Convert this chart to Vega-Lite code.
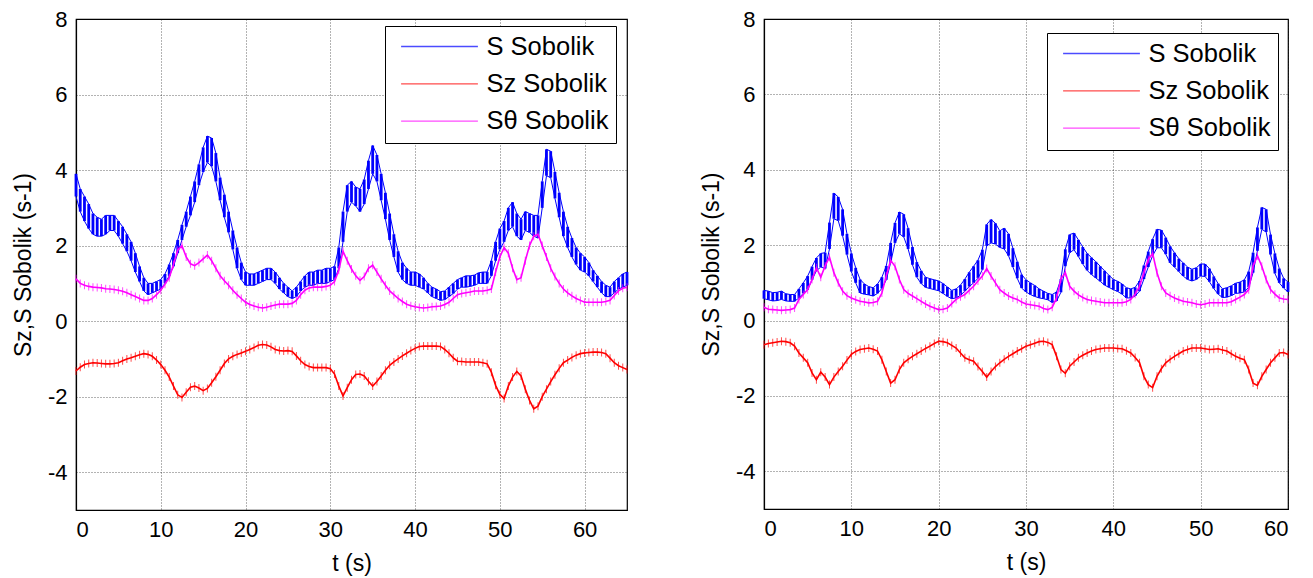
{
"$schema": "https://vega.github.io/schema/vega-lite/v6.json",
"padding": {"left": 11, "top": 7, "right": 5, "bottom": 5},
"background": "#ffffff",
"config": {
 "font": "Liberation Sans",
 "view": {"stroke": "#000", "strokeWidth": 1.2},
 "axis": {"labelFont": "Liberation Sans", "titleFont": "Liberation Sans", "labelFontSize": 22, "titleFontSize": 23, "titleFontWeight": "normal", "labelColor": "#000", "titleColor": "#000", "domainColor": "#000", "domainWidth": 1.2, "ticks": false, "gridColor": "#000", "gridDash": [1, 2], "gridOpacity": 0.75, "gridWidth": 0.8, "labelPadding": 9, "titlePadding": 12, "labelExpr": "'' + datum.value"},
 "legend": {"orient": "none", "title": null, "symbolType": "M-3.2,0L3.2,0", "symbolSize": 576, "symbolStrokeWidth": 1.3, "labelFontSize": 25.5, "labelFont": "Liberation Sans", "labelColor": "#000", "strokeColor": "#000", "fillColor": "#fff", "padding": 7.5, "rowPadding": 10.3, "symbolOffset": 34, "labelOffset": 34},
 "concat": {"spacing": 68}
},
"resolve": {"scale": {"color": "independent"}},
"datasets": {
"L": [
{"t":0,"a":3.3,"b":3.9,"z":-1.32,"h":1.12},
{"t":0.5,"a":2.9,"b":3.5,"z":-1.22,"h":1.0},
{"t":1,"a":2.65,"b":3.3,"z":-1.15,"h":0.95},
{"t":1.5,"a":2.45,"b":3.1,"z":-1.12,"h":0.92},
{"t":2,"a":2.3,"b":2.85,"z":-1.1,"h":0.9},
{"t":2.5,"a":2.25,"b":2.75,"z":-1.11,"h":0.89},
{"t":3,"a":2.25,"b":2.7,"z":-1.12,"h":0.88},
{"t":3.5,"a":2.3,"b":2.8,"z":-1.13,"h":0.86},
{"t":4,"a":2.4,"b":2.8,"z":-1.13,"h":0.85},
{"t":4.5,"a":2.4,"b":2.8,"z":-1.12,"h":0.84},
{"t":5,"a":2.25,"b":2.65,"z":-1.1,"h":0.82},
{"t":5.5,"a":2.05,"b":2.5,"z":-1.05,"h":0.79},
{"t":6,"a":1.85,"b":2.3,"z":-1.0,"h":0.75},
{"t":6.5,"a":1.6,"b":2.1,"z":-0.97,"h":0.7},
{"t":7,"a":1.3,"b":1.8,"z":-0.93,"h":0.65},
{"t":7.5,"a":1.05,"b":1.45,"z":-0.89,"h":0.6},
{"t":8,"a":0.8,"b":1.15,"z":-0.86,"h":0.55},
{"t":8.5,"a":0.7,"b":1.0,"z":-0.88,"h":0.55},
{"t":9,"a":0.75,"b":1.0,"z":-0.93,"h":0.6},
{"t":9.5,"a":0.8,"b":1.05,"z":-1.03,"h":0.7},
{"t":10,"a":0.85,"b":1.1,"z":-1.15,"h":0.82},
{"t":10.5,"a":1.0,"b":1.25,"z":-1.3,"h":0.98},
{"t":11,"a":1.2,"b":1.5,"z":-1.48,"h":1.15},
{"t":11.5,"a":1.45,"b":1.8,"z":-1.72,"h":1.5},
{"t":12,"a":1.8,"b":2.15,"z":-1.95,"h":1.88},
{"t":12.5,"a":2.15,"b":2.55,"z":-2.02,"h":2.0},
{"t":13,"a":2.5,"b":2.9,"z":-1.88,"h":1.7},
{"t":13.5,"a":2.8,"b":3.3,"z":-1.75,"h":1.52},
{"t":14,"a":3.15,"b":3.7,"z":-1.72,"h":1.47},
{"t":14.5,"a":3.6,"b":4.15,"z":-1.77,"h":1.55},
{"t":15,"a":3.95,"b":4.6,"z":-1.84,"h":1.65},
{"t":15.5,"a":4.2,"b":4.9,"z":-1.78,"h":1.75},
{"t":16,"a":4.1,"b":4.85,"z":-1.63,"h":1.6},
{"t":16.5,"a":3.7,"b":4.45,"z":-1.47,"h":1.4},
{"t":17,"a":3.2,"b":3.8,"z":-1.3,"h":1.2},
{"t":17.5,"a":2.75,"b":3.35,"z":-1.12,"h":1.07},
{"t":18,"a":2.35,"b":2.9,"z":-1.0,"h":0.95},
{"t":18.5,"a":1.9,"b":2.4,"z":-0.93,"h":0.82},
{"t":19,"a":1.4,"b":1.95,"z":-0.88,"h":0.7},
{"t":19.5,"a":1.1,"b":1.55,"z":-0.84,"h":0.6},
{"t":20,"a":0.95,"b":1.3,"z":-0.8,"h":0.5},
{"t":20.5,"a":0.95,"b":1.25,"z":-0.75,"h":0.44},
{"t":21,"a":0.95,"b":1.25,"z":-0.7,"h":0.4},
{"t":21.5,"a":1.0,"b":1.3,"z":-0.64,"h":0.37},
{"t":22,"a":1.05,"b":1.35,"z":-0.62,"h":0.35},
{"t":22.5,"a":1.1,"b":1.4,"z":-0.63,"h":0.37},
{"t":23,"a":1.1,"b":1.4,"z":-0.68,"h":0.4},
{"t":23.5,"a":1.0,"b":1.3,"z":-0.75,"h":0.43},
{"t":24,"a":0.85,"b":1.15,"z":-0.78,"h":0.45},
{"t":24.5,"a":0.75,"b":1.0,"z":-0.79,"h":0.45},
{"t":25,"a":0.65,"b":0.9,"z":-0.78,"h":0.45},
{"t":25.5,"a":0.6,"b":0.8,"z":-0.8,"h":0.47},
{"t":26,"a":0.65,"b":0.9,"z":-0.92,"h":0.55},
{"t":26.5,"a":0.8,"b":1.05,"z":-1.05,"h":0.7},
{"t":27,"a":0.9,"b":1.2,"z":-1.15,"h":0.82},
{"t":27.5,"a":0.95,"b":1.3,"z":-1.2,"h":0.88},
{"t":28,"a":0.95,"b":1.3,"z":-1.23,"h":0.9},
{"t":28.5,"a":1.0,"b":1.35,"z":-1.23,"h":0.9},
{"t":29,"a":1.0,"b":1.35,"z":-1.23,"h":0.9},
{"t":29.5,"a":1.0,"b":1.4,"z":-1.23,"h":0.92},
{"t":30,"a":1.05,"b":1.4,"z":-1.26,"h":0.95},
{"t":30.5,"a":1.1,"b":1.45,"z":-1.4,"h":1.05},
{"t":31,"a":1.4,"b":1.95,"z":-1.72,"h":1.35},
{"t":31.5,"a":2.1,"b":2.9,"z":-1.98,"h":1.85},
{"t":32,"a":2.9,"b":3.6,"z":-1.76,"h":1.6},
{"t":32.5,"a":3.15,"b":3.7,"z":-1.55,"h":1.38},
{"t":33,"a":3.05,"b":3.55,"z":-1.41,"h":1.2},
{"t":33.5,"a":2.9,"b":3.5,"z":-1.4,"h":1.08},
{"t":34,"a":3.1,"b":3.75,"z":-1.45,"h":1.18},
{"t":34.5,"a":3.5,"b":4.25,"z":-1.59,"h":1.4},
{"t":35,"a":3.9,"b":4.65,"z":-1.72,"h":1.48},
{"t":35.5,"a":3.7,"b":4.4,"z":-1.6,"h":1.3},
{"t":36,"a":3.2,"b":3.9,"z":-1.45,"h":1.12},
{"t":36.5,"a":2.7,"b":3.4,"z":-1.3,"h":0.95},
{"t":37,"a":2.15,"b":2.85,"z":-1.17,"h":0.8},
{"t":37.5,"a":1.7,"b":2.3,"z":-1.08,"h":0.7},
{"t":38,"a":1.3,"b":1.85,"z":-1.0,"h":0.6},
{"t":38.5,"a":1.1,"b":1.55,"z":-0.92,"h":0.52},
{"t":39,"a":1.0,"b":1.4,"z":-0.85,"h":0.45},
{"t":39.5,"a":0.95,"b":1.3,"z":-0.78,"h":0.41},
{"t":40,"a":0.95,"b":1.3,"z":-0.72,"h":0.38},
{"t":40.5,"a":0.9,"b":1.25,"z":-0.67,"h":0.36},
{"t":41,"a":0.85,"b":1.15,"z":-0.66,"h":0.35},
{"t":41.5,"a":0.75,"b":1.0,"z":-0.66,"h":0.36},
{"t":42,"a":0.65,"b":0.9,"z":-0.66,"h":0.38},
{"t":42.5,"a":0.6,"b":0.85,"z":-0.66,"h":0.39},
{"t":43,"a":0.55,"b":0.78,"z":-0.67,"h":0.4},
{"t":43.5,"a":0.57,"b":0.8,"z":-0.75,"h":0.44},
{"t":44,"a":0.65,"b":0.9,"z":-0.85,"h":0.5},
{"t":44.5,"a":0.73,"b":1.0,"z":-0.97,"h":0.6},
{"t":45,"a":0.85,"b":1.1,"z":-1.06,"h":0.7},
{"t":45.5,"a":0.9,"b":1.15,"z":-1.07,"h":0.73},
{"t":46,"a":0.9,"b":1.2,"z":-1.08,"h":0.75},
{"t":46.5,"a":0.92,"b":1.2,"z":-1.08,"h":0.77},
{"t":47,"a":0.95,"b":1.22,"z":-1.08,"h":0.8},
{"t":47.5,"a":1.0,"b":1.28,"z":-1.08,"h":0.8},
{"t":48,"a":1.0,"b":1.3,"z":-1.1,"h":0.8},
{"t":48.5,"a":1.0,"b":1.3,"z":-1.13,"h":0.82},
{"t":49,"a":1.2,"b":1.6,"z":-1.35,"h":0.85},
{"t":49.5,"a":1.6,"b":2.1,"z":-1.7,"h":1.3},
{"t":50,"a":1.9,"b":2.45,"z":-1.94,"h":1.7},
{"t":50.5,"a":2.1,"b":2.65,"z":-2.05,"h":1.95},
{"t":51,"a":2.4,"b":3.0,"z":-1.72,"h":1.8},
{"t":51.5,"a":2.5,"b":3.15,"z":-1.48,"h":1.4},
{"t":52,"a":2.25,"b":2.85,"z":-1.33,"h":1.1},
{"t":52.5,"a":2.15,"b":2.7,"z":-1.45,"h":1.15},
{"t":53,"a":2.4,"b":2.9,"z":-1.8,"h":1.6},
{"t":53.5,"a":2.35,"b":2.85,"z":-2.1,"h":2.0},
{"t":54,"a":2.25,"b":2.8,"z":-2.32,"h":2.25},
{"t":54.5,"a":2.2,"b":2.8,"z":-2.25,"h":2.3},
{"t":55,"a":3.0,"b":3.7,"z":-2.0,"h":2.0},
{"t":55.5,"a":3.85,"b":4.55,"z":-1.8,"h":1.7},
{"t":56,"a":3.8,"b":4.5,"z":-1.6,"h":1.4},
{"t":56.5,"a":3.25,"b":3.95,"z":-1.42,"h":1.18},
{"t":57,"a":2.75,"b":3.4,"z":-1.25,"h":1.0},
{"t":57.5,"a":2.25,"b":2.9,"z":-1.1,"h":0.85},
{"t":58,"a":1.95,"b":2.5,"z":-1.03,"h":0.75},
{"t":58.5,"a":1.7,"b":2.2,"z":-0.96,"h":0.67},
{"t":59,"a":1.5,"b":1.95,"z":-0.9,"h":0.6},
{"t":59.5,"a":1.35,"b":1.8,"z":-0.86,"h":0.55},
{"t":60,"a":1.3,"b":1.7,"z":-0.84,"h":0.5},
{"t":60.5,"a":1.2,"b":1.55,"z":-0.83,"h":0.5},
{"t":61,"a":1.05,"b":1.35,"z":-0.82,"h":0.5},
{"t":61.5,"a":0.9,"b":1.2,"z":-0.82,"h":0.5},
{"t":62,"a":0.75,"b":1.05,"z":-0.83,"h":0.5},
{"t":62.5,"a":0.65,"b":0.95,"z":-0.86,"h":0.52},
{"t":63,"a":0.65,"b":0.9,"z":-0.98,"h":0.55},
{"t":63.5,"a":0.75,"b":1.05,"z":-1.1,"h":0.68},
{"t":64,"a":0.85,"b":1.15,"z":-1.18,"h":0.8},
{"t":64.5,"a":0.9,"b":1.25,"z":-1.23,"h":0.87},
{"t":65,"a":0.95,"b":1.3,"z":-1.28,"h":0.9}
],
"R": [
{"t":0,"a":0.58,"b":0.8,"z":-0.64,"h":0.35},
{"t":0.5,"a":0.55,"b":0.78,"z":-0.61,"h":0.3},
{"t":1,"a":0.52,"b":0.74,"z":-0.59,"h":0.29},
{"t":1.5,"a":0.53,"b":0.75,"z":-0.57,"h":0.28},
{"t":2,"a":0.56,"b":0.78,"z":-0.55,"h":0.27},
{"t":2.5,"a":0.52,"b":0.71,"z":-0.56,"h":0.28},
{"t":3,"a":0.51,"b":0.69,"z":-0.59,"h":0.29},
{"t":3.5,"a":0.51,"b":0.69,"z":-0.68,"h":0.33},
{"t":4,"a":0.6,"b":0.84,"z":-0.86,"h":0.56},
{"t":4.5,"a":0.72,"b":1.0,"z":-0.99,"h":0.69},
{"t":5,"a":0.82,"b":1.18,"z":-1.12,"h":0.82},
{"t":5.5,"a":1.08,"b":1.43,"z":-1.39,"h":1.09},
{"t":6,"a":1.32,"b":1.66,"z":-1.57,"h":1.4},
{"t":6.5,"a":1.42,"b":1.78,"z":-1.37,"h":1.15},
{"t":7,"a":1.38,"b":1.8,"z":-1.5,"h":1.45},
{"t":7.5,"a":1.9,"b":2.6,"z":-1.7,"h":1.68},
{"t":8,"a":2.7,"b":3.38,"z":-1.5,"h":1.27},
{"t":8.5,"a":2.65,"b":3.28,"z":-1.35,"h":1.0},
{"t":9,"a":2.25,"b":2.95,"z":-1.21,"h":0.78},
{"t":9.5,"a":1.75,"b":2.3,"z":-1.05,"h":0.66},
{"t":10,"a":1.3,"b":1.78,"z":-0.9,"h":0.6},
{"t":10.5,"a":1.0,"b":1.4,"z":-0.82,"h":0.55},
{"t":11,"a":0.73,"b":1.09,"z":-0.77,"h":0.51},
{"t":11.5,"a":0.7,"b":0.97,"z":-0.75,"h":0.49},
{"t":12,"a":0.68,"b":0.9,"z":-0.73,"h":0.47},
{"t":12.5,"a":0.65,"b":0.87,"z":-0.76,"h":0.48},
{"t":13,"a":0.72,"b":0.97,"z":-0.81,"h":0.51},
{"t":13.5,"a":0.85,"b":1.15,"z":-1.04,"h":0.73},
{"t":14,"a":1.08,"b":1.45,"z":-1.35,"h":1.18},
{"t":14.5,"a":1.53,"b":2.06,"z":-1.66,"h":1.6},
{"t":15,"a":2.06,"b":2.59,"z":-1.57,"h":1.44},
{"t":15.5,"a":2.3,"b":2.88,"z":-1.3,"h":1.09},
{"t":16,"a":2.22,"b":2.82,"z":-1.12,"h":0.82},
{"t":16.5,"a":1.9,"b":2.45,"z":-1.03,"h":0.72},
{"t":17,"a":1.48,"b":1.95,"z":-0.95,"h":0.65},
{"t":17.5,"a":1.15,"b":1.55,"z":-0.88,"h":0.58},
{"t":18,"a":0.98,"b":1.32,"z":-0.81,"h":0.51},
{"t":18.5,"a":0.88,"b":1.15,"z":-0.74,"h":0.44},
{"t":19,"a":0.85,"b":1.11,"z":-0.68,"h":0.38},
{"t":19.5,"a":0.82,"b":1.08,"z":-0.61,"h":0.33},
{"t":20,"a":0.79,"b":1.05,"z":-0.55,"h":0.29},
{"t":20.5,"a":0.72,"b":0.98,"z":-0.56,"h":0.3},
{"t":21,"a":0.64,"b":0.89,"z":-0.59,"h":0.33},
{"t":21.5,"a":0.58,"b":0.8,"z":-0.66,"h":0.45},
{"t":22,"a":0.6,"b":0.84,"z":-0.73,"h":0.56},
{"t":22.5,"a":0.67,"b":0.94,"z":-0.86,"h":0.63},
{"t":23,"a":0.78,"b":1.1,"z":-0.99,"h":0.69},
{"t":23.5,"a":0.9,"b":1.28,"z":-1.04,"h":0.8},
{"t":24,"a":1.0,"b":1.44,"z":-1.08,"h":0.91},
{"t":24.5,"a":1.12,"b":1.6,"z":-1.22,"h":1.05},
{"t":25,"a":1.35,"b":1.88,"z":-1.35,"h":1.18},
{"t":25.5,"a":1.98,"b":2.55,"z":-1.5,"h":1.38},
{"t":26,"a":2.06,"b":2.68,"z":-1.35,"h":1.18},
{"t":26.5,"a":2.03,"b":2.58,"z":-1.22,"h":1.0},
{"t":27,"a":1.94,"b":2.38,"z":-1.12,"h":0.82},
{"t":27.5,"a":1.9,"b":2.45,"z":-1.03,"h":0.73},
{"t":28,"a":1.72,"b":2.3,"z":-0.95,"h":0.65},
{"t":28.5,"a":1.42,"b":1.92,"z":-0.88,"h":0.6},
{"t":29,"a":1.12,"b":1.56,"z":-0.81,"h":0.56},
{"t":29.5,"a":0.86,"b":1.22,"z":-0.75,"h":0.49},
{"t":30,"a":0.76,"b":1.08,"z":-0.68,"h":0.44},
{"t":30.5,"a":0.69,"b":1.0,"z":-0.64,"h":0.42},
{"t":31,"a":0.64,"b":0.93,"z":-0.6,"h":0.4},
{"t":31.5,"a":0.6,"b":0.84,"z":-0.56,"h":0.38},
{"t":32,"a":0.58,"b":0.78,"z":-0.55,"h":0.32},
{"t":32.5,"a":0.55,"b":0.72,"z":-0.58,"h":0.29},
{"t":33,"a":0.48,"b":0.69,"z":-0.64,"h":0.35},
{"t":33.5,"a":0.52,"b":0.76,"z":-0.95,"h":0.6},
{"t":34,"a":0.75,"b":1.1,"z":-1.3,"h":1.1},
{"t":34.5,"a":1.44,"b":1.89,"z":-1.4,"h":1.27},
{"t":35,"a":1.8,"b":2.28,"z":-1.21,"h":0.91},
{"t":35.5,"a":1.88,"b":2.32,"z":-1.1,"h":0.78},
{"t":36,"a":1.7,"b":2.14,"z":-0.99,"h":0.68},
{"t":36.5,"a":1.5,"b":1.95,"z":-0.92,"h":0.61},
{"t":37,"a":1.33,"b":1.78,"z":-0.86,"h":0.56},
{"t":37.5,"a":1.22,"b":1.67,"z":-0.81,"h":0.53},
{"t":38,"a":1.13,"b":1.56,"z":-0.77,"h":0.51},
{"t":38.5,"a":1.04,"b":1.44,"z":-0.75,"h":0.49},
{"t":39,"a":0.94,"b":1.32,"z":-0.73,"h":0.47},
{"t":39.5,"a":0.88,"b":1.2,"z":-0.73,"h":0.47},
{"t":40,"a":0.82,"b":1.09,"z":-0.73,"h":0.47},
{"t":40.5,"a":0.77,"b":1.04,"z":-0.74,"h":0.47},
{"t":41,"a":0.7,"b":0.97,"z":-0.75,"h":0.47},
{"t":41.5,"a":0.6,"b":0.87,"z":-0.8,"h":0.5},
{"t":42,"a":0.6,"b":0.84,"z":-0.86,"h":0.56},
{"t":42.5,"a":0.65,"b":0.88,"z":-0.98,"h":0.7},
{"t":43,"a":0.78,"b":1.05,"z":-1.12,"h":0.91},
{"t":43.5,"a":1.1,"b":1.46,"z":-1.48,"h":1.27},
{"t":44,"a":1.42,"b":1.83,"z":-1.7,"h":1.62},
{"t":44.5,"a":1.72,"b":2.16,"z":-1.78,"h":1.78},
{"t":45,"a":1.93,"b":2.42,"z":-1.48,"h":1.27},
{"t":45.5,"a":1.93,"b":2.4,"z":-1.28,"h":0.91},
{"t":46,"a":1.76,"b":2.2,"z":-1.12,"h":0.73},
{"t":46.5,"a":1.53,"b":1.97,"z":-1.03,"h":0.66},
{"t":47,"a":1.42,"b":1.8,"z":-0.95,"h":0.6},
{"t":47.5,"a":1.3,"b":1.64,"z":-0.88,"h":0.55},
{"t":48,"a":1.18,"b":1.53,"z":-0.81,"h":0.51},
{"t":48.5,"a":1.09,"b":1.42,"z":-0.77,"h":0.49},
{"t":49,"a":1.05,"b":1.36,"z":-0.73,"h":0.47},
{"t":49.5,"a":1.09,"b":1.4,"z":-0.73,"h":0.44},
{"t":50,"a":1.18,"b":1.5,"z":-0.73,"h":0.42},
{"t":50.5,"a":1.17,"b":1.5,"z":-0.75,"h":0.44},
{"t":51,"a":1.03,"b":1.38,"z":-0.77,"h":0.47},
{"t":51.5,"a":0.85,"b":1.17,"z":-0.76,"h":0.47},
{"t":52,"a":0.7,"b":0.98,"z":-0.75,"h":0.47},
{"t":52.5,"a":0.61,"b":0.84,"z":-0.78,"h":0.47},
{"t":53,"a":0.62,"b":0.87,"z":-0.81,"h":0.47},
{"t":53.5,"a":0.66,"b":0.92,"z":-0.88,"h":0.5},
{"t":54,"a":0.72,"b":0.99,"z":-0.95,"h":0.56},
{"t":54.5,"a":0.73,"b":1.02,"z":-1.0,"h":0.62},
{"t":55,"a":0.76,"b":1.08,"z":-1.04,"h":0.69},
{"t":55.5,"a":0.88,"b":1.3,"z":-1.3,"h":0.82},
{"t":56,"a":1.27,"b":1.8,"z":-1.66,"h":1.44},
{"t":56.5,"a":1.85,"b":2.47,"z":-1.72,"h":1.72},
{"t":57,"a":2.42,"b":3.0,"z":-1.48,"h":1.44},
{"t":57.5,"a":2.35,"b":2.95,"z":-1.3,"h":1.09},
{"t":58,"a":1.75,"b":2.28,"z":-1.12,"h":0.82},
{"t":58.5,"a":1.25,"b":1.78,"z":-0.99,"h":0.7},
{"t":59,"a":1.0,"b":1.38,"z":-0.86,"h":0.6},
{"t":59.5,"a":0.86,"b":1.12,"z":-0.85,"h":0.57},
{"t":60,"a":0.76,"b":1.02,"z":-0.9,"h":0.56}
]
},
"hconcat": [
{
 "width": 551, "height": 491,
 "data": {"name": "L"},
 "encoding": {"x": {"field": "t", "type": "quantitative", "scale": {"domain": [0, 65], "nice": false, "zero": false}, "axis": {"values": [0, 10, 20, 30, 40, 50, 60], "title": "t (s)"}}},
 "layer": [
  {"mark": {"type": "rule", "strokeWidth": 2.8}, "encoding": {
    "y": {"field": "a", "type": "quantitative", "scale": {"domain": [-5, 8], "nice": false, "zero": false}, "axis": {"values": [-4, -2, 0, 2, 4, 6, 8], "title": "Sz,S Sobolik (s-1)"}},
    "y2": {"field": "b"},
    "color": {"datum": "S Sobolik", "scale": {"domain": ["S Sobolik", "Sz Sobolik", "Sθ Sobolik"], "range": ["#0000ff", "#ff0000", "#ff00ff"]},
      "legend": {"legendX": 309, "legendY": 7}}}},
  {"mark": {"type": "line", "strokeWidth": 1}, "encoding": {"y": {"field": "a", "type": "quantitative"}, "color": {"datum": "S Sobolik"}}},
  {"mark": {"type": "line", "strokeWidth": 1}, "encoding": {"y": {"field": "b", "type": "quantitative"}, "color": {"datum": "S Sobolik"}}},
  {"mark": {"type": "line", "strokeWidth": 1.6}, "encoding": {"y": {"field": "z", "type": "quantitative"}, "color": {"datum": "Sz Sobolik"}}},
  {"mark": {"type": "tick", "orient": "vertical", "size": 8, "thickness": 1}, "encoding": {"y": {"field": "z", "type": "quantitative"}, "color": {"datum": "Sz Sobolik"}}},
  {"mark": {"type": "line", "strokeWidth": 1.6}, "encoding": {"y": {"field": "h", "type": "quantitative"}, "color": {"datum": "Sθ Sobolik"}}},
  {"mark": {"type": "tick", "orient": "vertical", "size": 8, "thickness": 1}, "encoding": {"y": {"field": "h", "type": "quantitative"}, "color": {"datum": "Sθ Sobolik"}}}
 ]
},
{
 "width": 524, "height": 490,
 "data": {"name": "R"},
 "encoding": {"x": {"field": "t", "type": "quantitative", "scale": {"domain": [0, 60], "nice": false, "zero": false}, "axis": {"values": [0, 10, 20, 30, 40, 50, 60], "title": "t (s)"}}},
 "layer": [
  {"mark": {"type": "rule", "strokeWidth": 2.8}, "encoding": {
    "y": {"field": "a", "type": "quantitative", "scale": {"domain": [-5, 8], "nice": false, "zero": false}, "axis": {"values": [-4, -2, 0, 2, 4, 6, 8], "title": "Sz,S Sobolik (s-1)"}},
    "y2": {"field": "b"},
    "color": {"datum": "S Sobolik", "scale": {"domain": ["S Sobolik", "Sz Sobolik", "Sθ Sobolik"], "range": ["#0000ff", "#ff0000", "#ff00ff"]},
      "legend": {"legendX": 283, "legendY": 14}}}},
  {"mark": {"type": "line", "strokeWidth": 1}, "encoding": {"y": {"field": "a", "type": "quantitative"}, "color": {"datum": "S Sobolik"}}},
  {"mark": {"type": "line", "strokeWidth": 1}, "encoding": {"y": {"field": "b", "type": "quantitative"}, "color": {"datum": "S Sobolik"}}},
  {"mark": {"type": "line", "strokeWidth": 1.6}, "encoding": {"y": {"field": "z", "type": "quantitative"}, "color": {"datum": "Sz Sobolik"}}},
  {"mark": {"type": "tick", "orient": "vertical", "size": 8, "thickness": 1}, "encoding": {"y": {"field": "z", "type": "quantitative"}, "color": {"datum": "Sz Sobolik"}}},
  {"mark": {"type": "line", "strokeWidth": 1.6}, "encoding": {"y": {"field": "h", "type": "quantitative"}, "color": {"datum": "Sθ Sobolik"}}},
  {"mark": {"type": "tick", "orient": "vertical", "size": 8, "thickness": 1}, "encoding": {"y": {"field": "h", "type": "quantitative"}, "color": {"datum": "Sθ Sobolik"}}}
 ]
}
]
}
